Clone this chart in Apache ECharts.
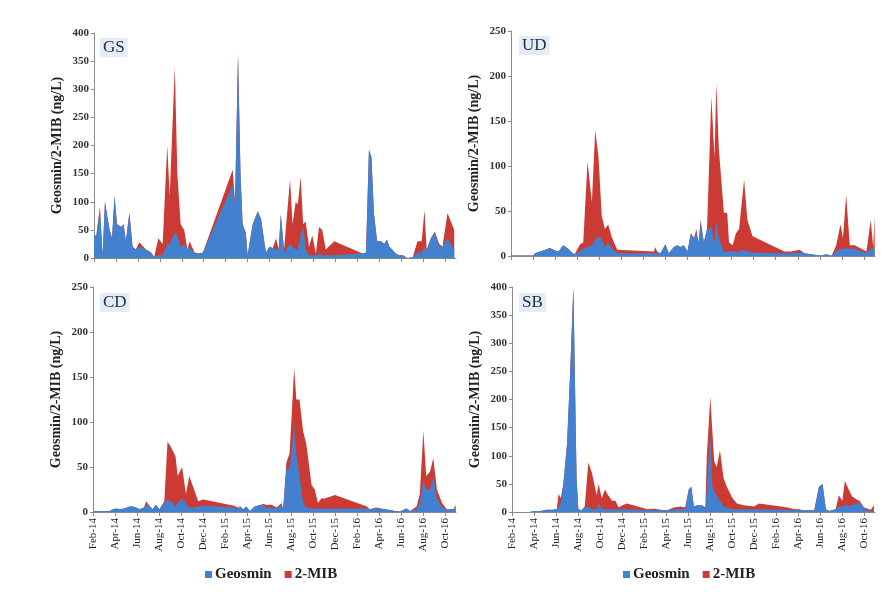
<!DOCTYPE html>
<html>
<head>
<meta charset="utf-8">
<script src="https://cdn.jsdelivr.net/npm/echarts@6/dist/echarts.min.js"></script>
<style>html,body{margin:0;padding:0;background:#fff}#c{width:894px;height:598px}</style>
</head>
<body>
<div id="c"></div>
<script>
// Tick labels (every 2 months starting Feb-14)
const xTickLabels = ['Feb-14','Apr-14','Jun-14','Aug-14','Oct-14','Dec-14','Feb-15','Apr-15','Jun-15','Aug-15','Oct-15','Dec-15','Feb-16','Apr-16','Jun-16','Aug-16','Oct-16'];
const seriesNames = ['Geosmin', '2-MIB'];
const siteNames = ['GS', 'UD', 'CD', 'SB'];

// GS
const gsDates = ['2014-02-01','2014-02-07','2014-02-16','2014-02-23','2014-03-01','2014-03-14','2014-03-21','2014-03-28','2014-04-04','2014-04-16','2014-04-22','2014-04-28','2014-05-08','2014-05-17','2014-05-26','2014-06-05','2014-06-23','2014-07-07','2014-07-16','2014-07-28','2014-08-09','2014-08-22','2014-08-29','2014-09-12','2014-09-19','2014-09-28','2014-10-08','2014-10-17','2014-10-23','2014-11-06','2014-11-20','2014-11-29','2015-02-19','2015-02-25','2015-03-05','2015-03-12','2015-03-18','2015-03-27','2015-04-01','2015-04-15','2015-04-29','2015-05-08','2015-05-17','2015-05-22','2015-06-01','2015-06-10','2015-06-19','2015-06-26','2015-07-02','2015-07-11','2015-07-28','2015-08-04','2015-08-13','2015-08-19','2015-08-27','2015-09-03','2015-09-10','2015-09-19','2015-09-28','2015-10-08','2015-10-17','2015-10-26','2015-11-05','2015-11-28','2016-02-15','2016-02-24','2016-03-03','2016-03-10','2016-03-17','2016-03-26','2016-04-06','2016-04-15','2016-04-22','2016-04-29','2016-05-17','2016-05-26','2016-06-05','2016-06-18','2016-07-03','2016-07-16','2016-07-28','2016-08-05','2016-08-11','2016-08-23','2016-09-03','2016-09-15','2016-09-24','2016-10-08','2016-10-27'];
const gsGeosmin = [40,40,90,5,100,50,35,110,60,55,60,30,80,20,15,20,15,10,2,5,5,25,25,45,40,20,25,15,20,8,8,10,130,95,360,150,60,45,5,60,83,70,30,10,20,18,15,15,78,10,25,20,15,15,40,55,15,5,5,5,8,5,5,5,8,10,192,180,80,30,30,25,33,20,8,5,5,0,2,10,10,20,12,35,45,20,20,35,15];
const gsMib = [0,0,0,0,0,0,0,0,0,0,0,0,0,0,0,8,0,0,0,30,20,175,85,295,110,40,25,0,10,2,0,0,27,5,5,0,0,0,0,0,0,0,0,0,0,0,20,0,0,5,115,40,85,80,105,5,50,15,35,3,47,45,10,25,0,0,0,0,0,0,0,0,0,0,0,0,0,0,0,20,20,65,3,0,2,5,0,45,35];

// UD
const udDates = ['2014-02-01','2014-04-02','2014-04-06','2014-04-20','2014-04-29','2014-05-17','2014-06-01','2014-06-10','2014-06-23','2014-07-07','2014-07-19','2014-07-25','2014-07-30','2014-08-09','2014-08-18','2014-08-30','2014-09-11','2014-09-20','2014-09-29','2014-10-08','2014-10-17','2014-10-26','2014-11-06','2014-11-20','2015-02-28','2015-03-03','2015-03-09','2015-03-18','2015-04-01','2015-04-10','2015-04-24','2015-05-03','2015-05-12','2015-05-22','2015-06-01','2015-06-10','2015-06-19','2015-06-25','2015-07-01','2015-07-07','2015-07-16','2015-07-25','2015-08-06','2015-08-15','2015-08-20','2015-08-27','2015-09-10','2015-09-19','2015-09-24','2015-10-04','2015-10-13','2015-10-22','2015-11-05','2015-11-14','2015-11-28','2016-02-24','2016-03-12','2016-04-06','2016-04-19','2016-05-17','2016-06-05','2016-06-18','2016-07-03','2016-07-16','2016-07-28','2016-08-04','2016-08-13','2016-08-23','2016-09-06','2016-09-24','2016-10-08','2016-10-20','2016-10-27','2016-10-31'];
const udGeosmin = [0.5,0.5,3,5,6,9,6,5,12,8,3,2,4,5,8,10,12,18,22,18,10,15,8,3,3,3,3,3,13,3,10,12,10,12,5,25,20,25,15,35,15,30,32,15,38,20,5,5,5,5,5,5,7,5,4,3,3,4,3,1.5,0.5,2,0.3,5,8,8,9,8,8,5,3,8,10,5];
const udMib = [0,0,0,0,0,0,0,0,0,0,0,0,0,8,7,95,48,122,88,27,20,20,12,4,2,7,2,0,0,0,0,0,0,0,0,0,0,5,0,5,0,0,145,95,154,100,43,43,10,7,20,25,78,35,18,2,2,3,0,0,0,0,0,7,27,12,59,4,4,3,2,32,0,40];

// CD
const cdDates = ['2014-02-04','2014-03-17','2014-03-26','2014-04-05','2014-04-14','2014-04-27','2014-05-11','2014-05-20','2014-05-29','2014-06-08','2014-06-20','2014-06-26','2014-07-05','2014-07-14','2014-07-23','2014-08-02','2014-08-16','2014-08-25','2014-09-04','2014-09-16','2014-09-22','2014-10-04','2014-10-15','2014-10-24','2014-11-04','2014-11-18','2014-12-02','2015-02-24','2015-03-07','2015-03-12','2015-03-21','2015-03-30','2015-04-09','2015-04-22','2015-05-15','2015-05-24','2015-06-08','2015-06-22','2015-07-05','2015-07-10','2015-07-19','2015-07-28','2015-08-10','2015-08-16','2015-08-25','2015-09-04','2015-09-13','2015-09-27','2015-10-06','2015-10-15','2015-10-24','2015-11-03','2015-12-01','2016-02-27','2016-03-06','2016-03-24','2016-04-18','2016-05-15','2016-05-29','2016-06-16','2016-06-26','2016-07-14','2016-07-23','2016-08-02','2016-08-10','2016-08-21','2016-08-30','2016-09-09','2016-09-23','2016-10-06','2016-10-25','2016-10-31'];
const cdGeosmin = [1,1,3,4,3,4,6,6,5,3,5,8,7,3,8,3,10,14,12,6,10,15,10,5,5,6,7,5,3,7,3,6,1,6,8,5,5,4,8,4,48,48,95,65,40,10,5,4,4,4,4,4,4,4,3,4,3,1,0.5,4,1,3,10,35,25,25,40,15,5,3,3,3];
const cdMib = [0,0,0,0,0,0,0,0,0,0,0,4,0,0,0,0,2,64,60,56,30,35,10,35,23,6,7,2,2,0,0,0,0,0,1,3,3,1,2,0,7,17,65,60,85,80,70,26,21,6,11,11,15,2,0,1,0,0,0,0,0,3,10,55,15,20,20,10,5,0,0,5];

// SB
const sbDates = ['2014-03-21','2014-03-31','2014-04-18','2014-05-06','2014-05-24','2014-06-03','2014-06-08','2014-06-14','2014-06-21','2014-07-01','2014-07-10','2014-07-19','2014-07-23','2014-07-28','2014-08-02','2014-08-11','2014-08-20','2014-08-30','2014-09-09','2014-09-13','2014-09-22','2014-09-27','2014-10-06','2014-10-15','2014-10-24','2014-11-04','2014-11-13','2014-11-22','2014-12-02','2014-12-15','2015-02-10','2015-02-28','2015-03-17','2015-04-04','2015-04-22','2015-05-11','2015-05-24','2015-06-03','2015-06-10','2015-06-17','2015-06-26','2015-07-10','2015-07-19','2015-07-23','2015-08-02','2015-08-07','2015-08-13','2015-08-20','2015-08-29','2015-09-08','2015-09-17','2015-10-02','2015-10-15','2015-11-03','2015-12-01','2015-12-15','2016-03-03','2016-03-21','2016-04-05','2016-04-14','2016-05-16','2016-05-29','2016-06-08','2016-06-17','2016-06-26','2016-07-14','2016-07-23','2016-08-02','2016-08-09','2016-08-20','2016-08-29','2016-09-12','2016-09-19','2016-10-01','2016-10-20','2016-10-29'];
const sbGeosmin = [0,2,2,4,4,5,5,15,50,120,250,400,250,60,5,3,8,10,5,5,5,15,5,5,5,5,5,5,5,5,3,3,3,3,5,5,5,40,45,10,12,12,5,40,140,50,35,30,20,10,8,5,5,5,5,5,4,3,3,3,3,45,50,5,2,5,10,10,12,12,12,15,18,5,2,3];
const sbMib = [0,0,0,0,0,0,27,10,0,0,0,0,0,0,0,0,2,78,65,63,25,35,20,35,25,15,15,3,7,10,2,3,1,0,3,5,3,0,0,0,0,0,3,60,65,100,55,50,90,50,37,20,10,7,5,10,4,2,2,0,0,0,0,0,0,0,20,10,43,28,16,7,2,3,2,9];

const sites = [
  { name: 'GS', dates: gsDates, geo: gsGeosmin, mib: gsMib },
  { name: 'UD', dates: udDates, geo: udGeosmin, mib: udMib },
  { name: 'CD', dates: cdDates, geo: cdGeosmin, mib: cdMib },
  { name: 'SB', dates: sbDates, geo: sbGeosmin, mib: sbMib }
];

// Convert a date string into a position in months since 1 Feb 2014
function monthPos(s) {
  const p = s.split('-').map(Number);
  const dim = new Date(p[0], p[1], 0).getDate();
  return (p[0] - 2014) * 12 + (p[1] - 2) + (p[2] - 1) / dim;
}

const FONT = '"Liberation Serif", "Times New Roman", serif';
const BLUE = '#4281d0';
const RED = '#cc3b33';
const AXIS = '#8a8a8a';

const grids = [
  { left: 94, top: 33, width: 362, height: 225 },
  { left: 511, top: 31, width: 364, height: 225 },
  { left: 93, top: 287, width: 363, height: 225 },
  { left: 512, top: 287, width: 363, height: 225 }
];
const yMax = [400, 250, 250, 400];
const tickVals = xTickLabels.map((_, i) => i * 2);

const xAxes = grids.map((g, i) => ({
  type: 'value', gridIndex: i, min: 0, max: 33,
  splitLine: { show: false },
  axisLine: { show: true, lineStyle: { color: AXIS, width: 1 } },
  axisTick: { show: true, length: 4, lineStyle: { color: AXIS }, customValues: tickVals },
  axisLabel: {
    show: i >= 2, rotate: 90, margin: 6, customValues: tickVals,
    fontFamily: FONT, fontSize: 11, color: '#222',
    formatter: v => xTickLabels[Math.round(v / 2)] || ''
  }
}));
const yAxes = grids.map((g, i) => ({
  type: 'value', gridIndex: i, min: 0, max: yMax[i], interval: 50,
  name: 'Geosmin/2-MIB (ng/L)', nameLocation: 'middle', nameGap: 30,
  nameTextStyle: { fontFamily: FONT, fontSize: 14, fontWeight: 'bold', color: '#222' },
  splitLine: { show: false },
  axisLine: { show: true, lineStyle: { color: AXIS, width: 1 } },
  axisTick: { show: true, length: 3, lineStyle: { color: AXIS } },
  axisLabel: { fontFamily: FONT, fontSize: 11, fontWeight: 'bold', color: '#333', margin: 5 }
}));

// Cumulative (stacked) areas: 2-MIB sits on top of Geosmin.
const series = [];
sites.forEach((s, i) => {
  const geoData = s.dates.map((d, k) => [monthPos(d), s.geo[k]]);
  const totData = s.dates.map((d, k) => [monthPos(d), s.geo[k] + s.mib[k]]);
  series.push({
    name: seriesNames[1], type: 'line', xAxisIndex: i, yAxisIndex: i, z: 2,
    data: totData, showSymbol: false, symbol: 'none',
    lineStyle: { width: 0, color: RED }, itemStyle: { color: RED },
    areaStyle: { color: RED, opacity: 1 }
  });
  series.push({
    name: seriesNames[0], type: 'line', xAxisIndex: i, yAxisIndex: i, z: 3,
    data: geoData, showSymbol: false, symbol: 'none',
    lineStyle: { width: 0, color: BLUE }, itemStyle: { color: BLUE },
    areaStyle: { color: BLUE, opacity: 1 }
  });
});

const labelPos = [[100, 38], [519, 36], [100, 293], [519, 293]];
const titles = siteNames.map((n, i) => ({
  text: n, left: labelPos[i][0], top: labelPos[i][1],
  backgroundColor: '#e4edf7', padding: [1, 3],
  textStyle: { fontFamily: FONT, fontSize: 17, fontWeight: 'normal', color: '#1f2a40' }
}));

const legendCommon = {
  data: seriesNames, icon: 'rect', itemWidth: 7, itemHeight: 7, itemGap: 13,
  textStyle: { fontFamily: FONT, fontSize: 15, fontWeight: 'bold', color: '#222', padding: [0, 0, 0, -2] }
};

const chart = echarts.init(document.getElementById('c'), null, { renderer: 'canvas' });
chart.setOption({
  animation: false,
  backgroundColor: '#fff',
  title: titles,
  legend: [
    Object.assign({ left: 200, top: 562 }, legendCommon),
    Object.assign({ left: 618, top: 562 }, legendCommon)
  ],
  grid: grids,
  xAxis: xAxes,
  yAxis: yAxes,
  series: series
});
</script>
</body>
</html>
